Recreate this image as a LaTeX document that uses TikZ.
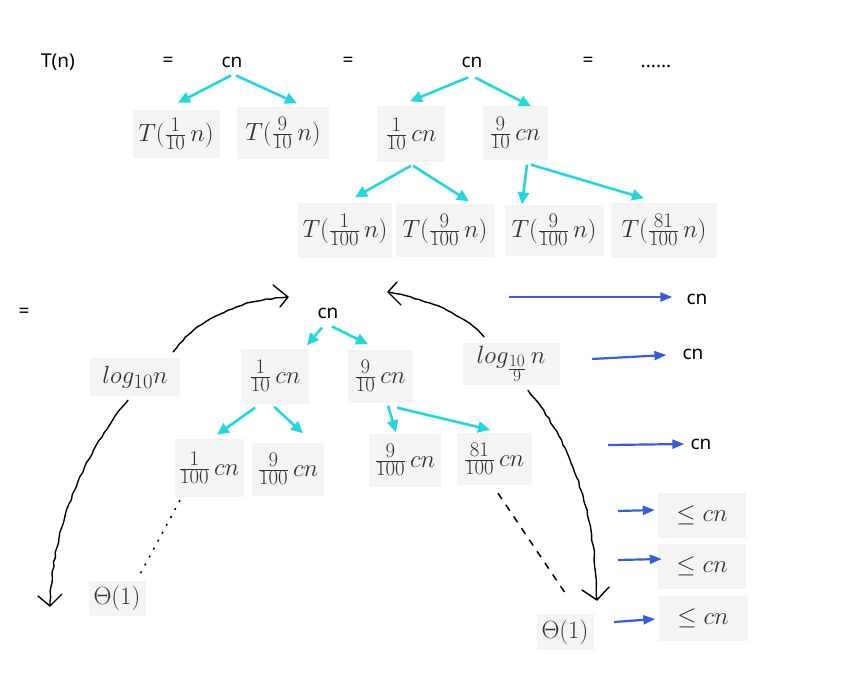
\documentclass[tikz,border=0pt]{standalone}
\usepackage{fontspec}
\newfontfamily\ya{Noto Sans}
\usetikzlibrary{arrows.meta,calc,decorations.pathmorphing}
\definecolor{boxgray}{HTML}{F4F4F4}
\definecolor{cyanarr}{HTML}{22D8DA}
\definecolor{bluearr}{HTML}{3A5CD8}
\definecolor{mathtxt}{HTML}{3A302A}
\begin{document}
\begin{tikzpicture}[x=1pt,y=-1pt,
  lbl/.style={font=\ya\fontsize{19}{22}\selectfont, inner sep=0pt},
  mbox/.style={fill=boxgray, inner sep=0pt, font=\fontsize{24.88}{28}\selectfont, text=mathtxt},
  carr/.style={cyanarr, line width=2.6pt, -{Triangle[length=12pt,width=11pt]}},
  barr/.style={bluearr, line width=2.2pt, -{Triangle[length=12pt,width=9pt]}},
  hand/.style={black, line width=1.4pt, line cap=round, line join=round},
  wob/.style={decoration={random steps, segment length=5pt, amplitude=0.7pt}},
]
\useasboundingbox (0,0) rectangle (858,682);

% ---- top row ----
\node[lbl] (tn)  at (58,62)  {T(n)};
\node[lbl] (eq1) at (168,62) {=};
\node[lbl] (cnA) at (232,62) {cn};
\node[lbl] (eq2) at (348,62) {=};
\node[lbl] (cnB) at (472,62) {cn};
\node[lbl] (eq3) at (588,62) {=};
\node[lbl] (dts) at (656,66) {......};

\node[mbox, minimum width=87, minimum height=48] (a1) at (176,134) {$T(\frac{1}{10}\,n)$};
\node[mbox, minimum width=92, minimum height=51] (a2) at (283,133) {$T(\frac{9}{10}\,n)$};
\node[mbox, minimum width=68, minimum height=55] (b1) at (411,134) {$\frac{1}{10}\,cn$};
\node[mbox, minimum width=65, minimum height=53] (b2) at (515,133) {$\frac{9}{10}\,cn$};

\node[mbox, minimum width=94, minimum height=55] (c1) at (345,230) {$T(\frac{1}{100}\,n)$};
\node[mbox, minimum width=99, minimum height=53] (c2) at (445,230) {$T(\frac{9}{100}\,n)$};
\node[mbox, minimum width=99, minimum height=51] (c3) at (554,230) {$T(\frac{9}{100}\,n)$};
\node[mbox, minimum width=106, minimum height=55] (c4) at (664,230) {$T(\frac{81}{100}\,n)$};

\draw[carr] ($(cnA.south)+(-1,8)$) -- ($(a1.north)+(2,-7)$);
\draw[carr] ($(cnA.south)+(4,8)$) -- ($(a2.north)+(14,-4)$);
\draw[carr] ($(cnB.south)+(-4,10)$) -- ($(b1.north)+(-1,-5)$);
\draw[carr] ($(cnB.south)+(3,10)$) -- ($(b2.north)+(16,0)$);
\draw[carr] ($(b1.south)+(0,4)$) -- ($(c1.north)+(10,-5)$);
\draw[carr] ($(b1.south)+(2,4)$) -- ($(c2.north)+(24,-2)$);
\draw[carr] ($(b2.south)+(12,5)$) -- ($(c3.north)+(-32,0)$);
\draw[carr] ($(b2.south)+(16,5)$) -- ($(c4.north)+(-20,-4)$);

% ---- lower tree ----
\node[lbl] (eq4) at (24,313) {=};
\node[lbl] (cnC) at (328,313) {cn};
\node[mbox, minimum width=90, minimum height=38] (lg1) at (135,377) {$log_{10}n$};
\node[mbox, minimum width=68, minimum height=55] (d1) at (275,376) {$\frac{1}{10}\,cn$};
\node[mbox, minimum width=65, minimum height=53] (d2) at (380,376) {$\frac{9}{10}\,cn$};
\node[mbox, minimum width=97, minimum height=42] (lg2) at (511,364) {$log_{\frac{10}{9}}\,n$};

\node[mbox, minimum width=69, minimum height=58] (e1) at (209,468) {$\frac{1}{100}\,cn$};
\node[mbox, minimum width=72, minimum height=53] (e2) at (288,469) {$\frac{9}{100}\,cn$};
\node[mbox, minimum width=72, minimum height=53] (e3) at (405,460) {$\frac{9}{100}\,cn$};
\node[mbox, minimum width=75, minimum height=52] (e4) at (494,459) {$\frac{81}{100}\,cn$};

\node[mbox, minimum width=57, minimum height=35] (th1) at (117,598) {$\Theta(1)$};
\node[mbox, minimum width=57, minimum height=36] (th2) at (565,632) {$\Theta(1)$};

\node[mbox, minimum width=88, minimum height=45] (le1) at (702,515) {$\le cn$};
\node[mbox, minimum width=88, minimum height=45] (le2) at (702,566) {$\le cn$};
\node[mbox, minimum width=89, minimum height=45] (le3) at (703,618) {$\le cn$};

\node[lbl] (cr1) at (697,299) {cn};
\node[lbl] (cr2) at (693,354) {cn};
\node[lbl] (cr3) at (701,444) {cn};

\draw[carr] ($(cnC.south)+(-6,9)$) -- ($(d1.north)+(32,-3)$);
\draw[carr] ($(cnC.south)+(4,8)$) -- ($(d2.north)+(-12,-5)$);
\draw[carr] ($(d1.south)+(-20,4)$) -- ($(e1.north)+(8,-4)$);
\draw[carr] ($(d1.south)+(-1,3)$) -- ($(e2.north)+(15,-9)$);
\draw[carr] ($(d2.south)+(8,3)$) -- ($(e3.north)+(-9,-1)$);
\draw[carr] ($(d2.south)+(17,5)$) -- ($(e4.north)+(-4,-3)$);

% blue arrows
\coordinate (bs1) at (509,297);
\coordinate (bs2) at (592,359);
\coordinate (bs3) at (608,445);
\coordinate (bs4) at (618,511);
\coordinate (bs5) at (618,560);
\coordinate (bs6) at (614,622);
\draw[barr] (bs1) -- ($(cr1.west)+(-14,-2)$);
\draw[barr] (bs2) -- ($(cr2.west)+(-16,1)$);
\draw[barr] (bs3) -- ($(cr3.west)+(-6,0)$);
\draw[barr] (bs4) -- ($(le1.west)+(-3,-5)$);
\draw[barr] (bs5) -- ($(le2.west)+(4,-7)$);
\draw[barr] (bs6) -- ($(le3.west)+(-3,1)$);

% hand-drawn curved arrows
\coordinate (t1) at (288,297);
\coordinate (t2) at (50,606);
\coordinate (t3) at (388,292);
\coordinate (t4) at (597,600);
\draw[hand] decorate[wob]{($(lg1.north)+(38,-6)$) .. controls (195,322) and (235,300) .. (t1)}
  (273,285) -- (t1) -- (280,307);
\draw[hand] decorate[wob]{($(lg1.south)+(-7,4)$) .. controls (90,445) and (52,520) .. (t2)}
  (38,596) -- (t2) -- (62,594);
\draw[hand] decorate[wob]{($(lg2.north)+(-27,-6)$) .. controls (465,315) and (430,300) .. (t3)}
  (397,282) -- (t3) -- (401,305);
\draw[hand] decorate[wob]{($(lg2.south)+(17,5)$) .. controls (560,430) and (595,490) .. (t4)}
  (582,590) -- (t4) -- (609,587);

% dotted / dashed continuation
\draw[black, line width=1.5pt, dash pattern=on 2pt off 7pt] ($(e1.south)+(-29,3)$) -- ($(th1.north)+(23,-6)$);
\draw[black, line width=1.5pt, dash pattern=on 7pt off 7pt] ($(e4.south)+(4,8)$) -- ($(th2.north)+(2,-18)$);
\end{tikzpicture}
\end{document}
